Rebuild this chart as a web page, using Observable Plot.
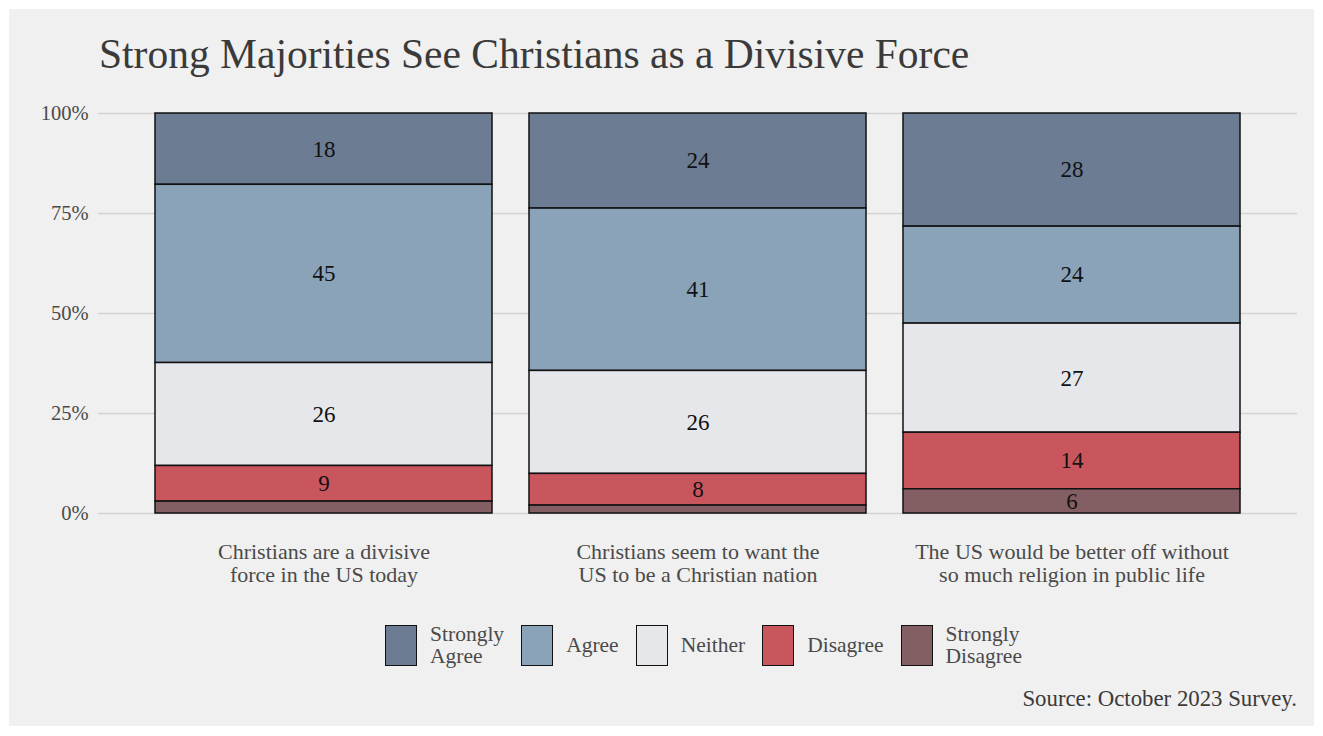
<!DOCTYPE html>
<html>
<head>
<meta charset="utf-8">
<script src="https://cdn.jsdelivr.net/npm/d3@7"></script>
<script src="https://cdn.jsdelivr.net/npm/@observablehq/plot@0.6"></script>
<style>
  html, body { margin: 0; padding: 0; background: #ffffff; }
  body { width: 1323px; height: 736px; position: relative; overflow: hidden; font-family: "Liberation Serif", "DejaVu Serif", serif; }
  #panel { position: absolute; left: 9px; top: 9px; width: 1305px; height: 717px; background: #f0f0f0; }
  #title { position: absolute; left: 90px; top: 25px; font-size: 41.5px; line-height: 1; color: #3a3a3a; white-space: nowrap; }
  #chart { position: absolute; left: 0; top: 80px; }
  #legend { position: absolute; top: 614px; left: 0; width: 1305px; display: flex; justify-content: center; align-items: center; transform: translateX(42px); }
  .item { display: flex; align-items: center; margin: 0 8.5px; }
  .key { width: 30px; height: 39px; border: 1.5px solid #111; box-sizing: content-box; }
  .lab { margin-left: 13px; font-size: 21.5px; line-height: 22px; color: #4a4a4a; }
  #caption { position: absolute; right: 17px; top: 679px; font-size: 22.8px; line-height: 1; color: #3a3a3a; white-space: nowrap; }
</style>
</head>
<body>
<div id="panel">
  <div id="title"></div>
  <div id="chart"></div>
  <div id="legend"></div>
  <div id="caption"></div>
</div>
<script>
const titleText = "Strong Majorities See Christians as a Divisive Force";
const captionText = "Source: October 2023 Survey.";
const questions = [
  "Christians are a divisive\nforce in the US today",
  "Christians seem to want the\nUS to be a Christian nation",
  "The US would be better off without\nso much religion in public life"
];
const levels = ["Strongly Agree", "Agree", "Neither", "Disagree", "Strongly Disagree"];
const legendLabels = ["Strongly<br>Agree", "Agree", "Neither", "Disagree", "Strongly<br>Disagree"];
const colors = ["#6b7c93", "#8aa3b8", "#e6e7eb", "#c9565d", "#835f63"];
const stronglyAgree = [18, 24, 28];
const agree = [45, 41, 24];
const neither = [26, 26, 27];
const disagree = [9, 8, 14];
const stronglyDisagree = [3, 2, 6];
const yTicks = [0, 0.25, 0.5, 0.75, 1];

const series = [stronglyAgree, agree, neither, disagree, stronglyDisagree];
const data = [];
questions.forEach((q, i) => {
  levels.forEach((lv, j) => data.push({q, level: lv, value: series[j][i]}));
});
const stackOrder = ["Strongly Disagree", "Disagree", "Neither", "Agree", "Strongly Agree"];

document.getElementById("title").textContent = titleText;
document.getElementById("caption").textContent = captionText;

const chart = Plot.plot({
  width: 1305,
  height: 510,
  marginTop: 24,
  marginBottom: 86,
  marginLeft: 89,
  marginRight: 17,
  style: {background: "transparent", fontFamily: "Liberation Serif, serif", overflow: "visible"},
  x: {domain: questions, paddingInner: 0.1, paddingOuter: 0.15, label: null},
  y: {domain: [0, 1], label: null},
  color: {domain: levels, range: colors},
  marks: [
    Plot.gridY(yTicks, {stroke: "#d3d3d3", strokeOpacity: 1, strokeWidth: 1.3}),
    Plot.axisY(yTicks, {tickFormat: d => Math.round(d * 100) + "%", tickSize: 0, tickPadding: 10, fontSize: 20.5, fill: "#4a4a4a", label: null}),
    Plot.axisX({tickSize: 0, tickPadding: 29, fontSize: 22, lineHeight: 1.05, fill: "#4a4a4a", label: null}),
    Plot.barY(data, Plot.stackY({x: "q", y: "value", fill: "level", offset: "normalize", order: stackOrder, stroke: "#111", strokeWidth: 1.5})),
    Plot.text(data, Plot.stackY({x: "q", y: "value", z: "level", offset: "normalize", order: stackOrder, text: d => d.value >= 5 ? String(d.value) : null, fontSize: 23, fill: "#111"}))
  ]
});
document.getElementById("chart").appendChild(chart);

const legend = document.getElementById("legend");
levels.forEach((lv, i) => {
  const item = document.createElement("div");
  item.className = "item";
  item.innerHTML = `<div class="key" style="background:${colors[i]}"></div><div class="lab">${legendLabels[i]}</div>`;
  legend.appendChild(item);
});
</script>
</body>
</html>
